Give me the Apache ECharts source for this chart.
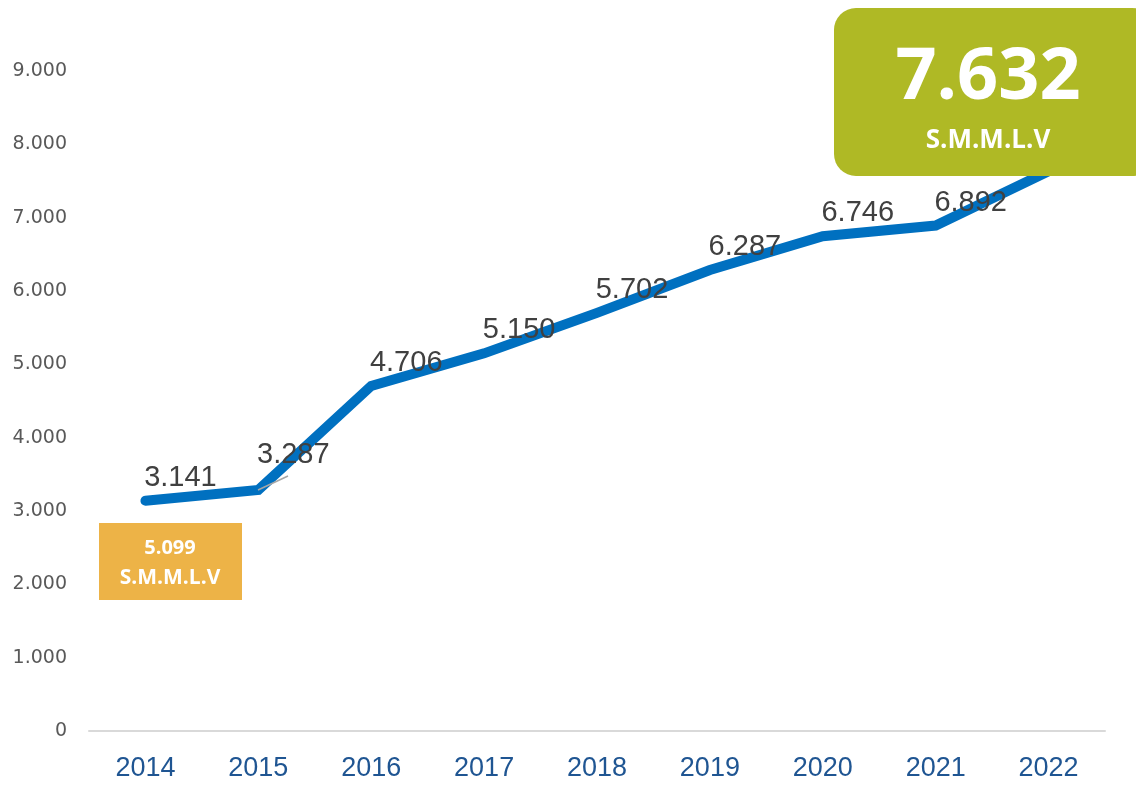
<!DOCTYPE html>
<html>
<head>
<meta charset="utf-8">
<script src="https://cdn.jsdelivr.net/npm/echarts@6/dist/echarts.min.js"></script>
<style>
  html, body { margin: 0; padding: 0; background: #fff; }
  #chart { width: 1136px; height: 786px; }
</style>
</head>
<body>
<div id="chart"></div>
<script>
// datos
const years = ['2014', '2015', '2016', '2017', '2018', '2019', '2020', '2021', '2022'];
const values = [3141, 3287, 4706, 5150, 5702, 6287, 6746, 6892, 7632];
const yTicks = [0, 1000, 2000, 3000, 4000, 5000, 6000, 7000, 8000, 9000];
const bigBoxValue = 7632;
const smallBoxValue = 5099;
const unitLabel = 'S.M.M.L.V';

// 1234 -> "1.234"
const fmt = (v) => String(v).replace(/\B(?=(\d{3})+(?!\d))/g, '.');

const chart = echarts.init(document.getElementById('chart'));

const option = {
  animation: false,
  grid: { left: 89, right: 31, top: 71, bottom: 55 },
  xAxis: {
    type: 'category',
    data: years,
    axisLine: { lineStyle: { color: '#d9d9d9', width: 2 } },
    axisTick: { show: false },
    axisLabel: {
      color: '#1f5592',
      fontSize: 27,
      fontFamily: 'Liberation Sans Narrow, Liberation Sans, sans-serif',
      margin: 24
    }
  },
  yAxis: {
    type: 'value',
    min: yTicks[0],
    max: yTicks[yTicks.length - 1],
    interval: 1000,
    axisLine: { show: false },
    axisTick: { show: false },
    splitLine: { show: false },
    axisLabel: {
      color: '#595959',
      fontSize: 19,
      fontFamily: 'DejaVu Sans, sans-serif',
      margin: 22,
      formatter: (v) => fmt(v)
    }
  },
  series: [
    {
      type: 'line',
      data: values,
      symbol: 'circle',
      symbolSize: 1,
      showSymbol: true,
      itemStyle: { color: '#0070c0' },
      lineStyle: { color: '#0070c0', width: 10, cap: 'round', join: 'miter' },
      label: {
        show: true,
        position: 'top',
        distance: 8,
        color: '#404040',
        fontSize: 29,
        fontFamily: 'Liberation Sans Narrow, Liberation Sans, sans-serif',
        formatter: (p) => fmt(p.value)
      },
      // 2015 lleva la etiqueta un poco más arriba, con su línea guía
      labelLayout: (p) => ({ hideOverlap: false, dx: 35, dy: p.dataIndex === 1 ? -12 : 0 }),
      z: 2
    }
  ],
  graphic: [
    {
      type: 'rect',
      z: 100,
      shape: { x: 834, y: 8, width: 320, height: 168, r: 22 },
      style: { fill: '#afb925' }
    },
    {
      type: 'text',
      z: 101,
      style: {
        x: 988, y: 78, text: fmt(bigBoxValue), fill: '#fff',
        font: 'bold 72px "Open Sans", sans-serif',
        textAlign: 'center', textVerticalAlign: 'middle'
      }
    },
    {
      type: 'text',
      z: 101,
      style: {
        x: 988, y: 141, text: unitLabel, fill: '#fff',
        font: 'bold 26px "Open Sans", sans-serif',
        textAlign: 'center', textVerticalAlign: 'middle'
      }
    },
    {
      type: 'rect',
      z: 100,
      shape: { x: 99, y: 523, width: 143, height: 77 },
      style: { fill: '#edb347' }
    },
    {
      type: 'text',
      z: 101,
      style: {
        x: 170, y: 548, text: fmt(smallBoxValue), fill: '#fff',
        font: 'bold 20px "Open Sans", sans-serif',
        textAlign: 'center', textVerticalAlign: 'middle'
      }
    },
    {
      type: 'text',
      z: 101,
      style: {
        x: 170, y: 578, text: unitLabel, fill: '#fff',
        font: 'bold 21px "Open Sans", sans-serif',
        textAlign: 'center', textVerticalAlign: 'middle'
      }
    },
    {
      type: 'line',
      z: 100,
      shape: { x1: 258, y1: 490, x2: 288, y2: 476 },
      style: { stroke: '#a6a6a6', lineWidth: 1.5 }
    }
  ]
};

chart.setOption(option);
</script>
</body>
</html>
